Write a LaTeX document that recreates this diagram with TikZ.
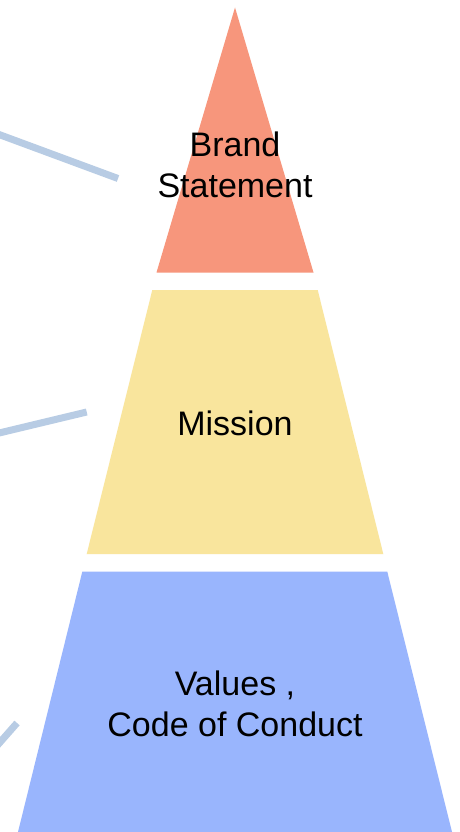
\documentclass[tikz,border=0pt]{standalone}
\usepackage{fontspec}
\setmainfont{Liberation Sans}
\definecolor{salmon}{RGB}{247,150,124}
\definecolor{butter}{RGB}{249,229,157}
\definecolor{sky}{RGB}{153,181,253}
\definecolor{linkc}{RGB}{184,204,228}
\begin{document}
\begin{tikzpicture}[x=1pt,y=-1pt,
  lbl/.style={align=center,font=\fontsize{34}{41}\selectfont,inner sep=0pt,text=black},
  link/.style={draw=linkc,line width=7pt}]
\useasboundingbox[fill=white] (0,0) rectangle (459,832);
\clip (0,0) rectangle (459,832);
% tiers
\fill[salmon] (235,7.5) -- (313.5,272.5) -- (156.5,272.5) -- cycle;
\fill[butter] (152.3,290) -- (317.7,290) -- (383.3,554) -- (86.7,554) -- cycle;
\fill[sky] (82.3,571.7) -- (387.3,571.7) -- (452,832) -- (18,832) -- cycle;
% connectors
\coordinate (a1) at (-5,133);
\coordinate (a2) at (118,178.5);
\coordinate (b1) at (-5,434);
\coordinate (b2) at (86.7,412);
\coordinate (c1) at (-5,748);
\coordinate (c2) at (17,723);
\draw[link] (a1) -- (a2);
\draw[link] (b1) -- (b2);
\draw[link] (c1) -- (c2);
% labels
\node[lbl,anchor=base] (brand) at (235,197) {Brand\\Statement};
\node[lbl,anchor=base] (mission) at (235,435) {Mission};
\node[lbl,anchor=base] (values) at (235,736.7) {Values ,\\Code of Conduct};
\end{tikzpicture}
\end{document}
